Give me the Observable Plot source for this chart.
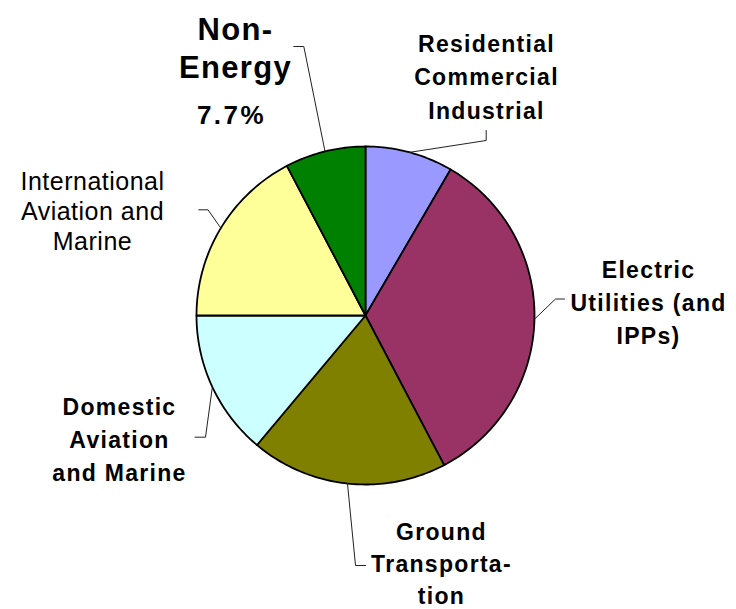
<!DOCTYPE html>
<html>
<head>
<meta charset="utf-8">
<script src="https://cdn.jsdelivr.net/npm/d3@7"></script>
<script src="https://cdn.jsdelivr.net/npm/@observablehq/plot@0.6"></script>
<style>
  html, body { margin: 0; padding: 0; background: #fff; }
  svg g[font-weight="bold"] text { letter-spacing: 1.3px; }
  svg g[font-weight="normal"] text { letter-spacing: 0.5px; }
  svg g.pct text { letter-spacing: 2.5px; }
</style>
</head>
<body>
<div id="chart"></div>
<script>
// ---- data ----
const categories = [
  "Residential Commercial Industrial",
  "Electric Utilities (and IPPs)",
  "Ground Transportation",
  "Domestic Aviation and Marine",
  "International Aviation and Marine",
  "Non-Energy"
];
const shares = [8.4, 33.9, 18.8, 13.9, 17.3, 7.7];
const labelTexts = [
  "Residential\nCommercial\nIndustrial",
  "Electric\nUtilities (and\nIPPs)",
  "Ground\nTransporta-\ntion",
  "Domestic\nAviation\nand Marine",
  "International\nAviation and\nMarine",
  "Non-\nEnergy"
];
const showPercent = [false, false, false, false, false, true];

// ---- styles / layout ----
const colors = ["#9999FF", "#993366", "#808000", "#CCFFFF", "#FFFF99", "#008000"];
const W = 736, H = 609;
const cx = 365, cy = 315, R = 169;
// label block centres and font settings
const labelLayout = [
  {x: 486, y: 74,  size: 23, weight: "bold",   lh: 1.45},
  {x: 648, y: 300, size: 23, weight: "bold",   lh: 1.42},
  {x: 441, y: 561, size: 23, weight: "bold",   lh: 1.4},
  {x: 119, y: 437, size: 23, weight: "bold",   lh: 1.44},
  {x: 92,  y: 210, size: 25, weight: "normal", lh: 1.2},
  {x: 235, y: 46,  size: 31, weight: "bold",   lh: 1.25}
];
const percentLayout = {x: 231, y: 115, size: 26};
// leader line elbow and end points
const leaderLayout = [
  [[485.7, 140], [485.7, 130]],
  [[555, 298.5], [564, 298.5]],
  [[355, 565], [365, 565]],
  [[205, 436.7], [194.5, 436.7]],
  [[207.5, 209.3], [198.3, 209.3]],
  [[303.3, 46], [293.3, 46]]
];

// ---- geometry from data ----
const total = d3.sum(shares);
const pt = (a) => [cx + R * Math.sin(a), cy - R * Math.cos(a)];
let acc = 0;
const slicePts = [];
const leaderPts = [];
categories.forEach((name, i) => {
  const a0 = acc / total * 2 * Math.PI;
  acc += shares[i];
  const a1 = acc / total * 2 * Math.PI;
  const n = Math.max(2, Math.ceil((a1 - a0) / (Math.PI / 180)));
  slicePts.push({name, x: cx, y: cy});
  for (let k = 0; k <= n; k++) {
    const [x, y] = pt(a0 + (a1 - a0) * k / n);
    slicePts.push({name, x, y});
  }
  slicePts.push({name, x: cx, y: cy});
  const [mx, my] = pt((a0 + a1) / 2);
  leaderPts.push({name, x: mx, y: my});
  leaderLayout[i].forEach(([x, y]) => leaderPts.push({name, x, y}));
});

const marks = [
  Plot.line(slicePts, {
    x: "x", y: "y", z: "name", fill: "name",
    stroke: "#000", strokeWidth: 1.8, strokeLinejoin: "round", curve: "linear"
  }),
  Plot.line(leaderPts, {
    x: "x", y: "y", z: "name", stroke: "#222", strokeWidth: 1, curve: "linear"
  })
];
categories.forEach((name, i) => {
  const L = labelLayout[i];
  marks.push(Plot.text([labelTexts[i]], {
    x: () => L.x, y: () => L.y, text: d => d,
    fontSize: L.size, fontWeight: L.weight, lineHeight: L.lh,
    fill: "#000", textAnchor: "middle"
  }));
  if (showPercent[i]) {
    marks.push(Plot.text([shares[i]], {
      x: () => percentLayout.x, y: () => percentLayout.y,
      text: d => d.toFixed(1) + "%",
      fontSize: percentLayout.size, fontWeight: "bold", fill: "#000",
      className: "pct"
    }));
  }
});

const chart = Plot.plot({
  width: W, height: H,
  margin: 0,
  x: {domain: [0, W], range: [0, W], axis: null},
  y: {domain: [0, H], range: [0, H], axis: null},
  color: {domain: categories, range: colors},
  style: {fontFamily: "Arial, 'Liberation Sans', sans-serif", background: "#fff"},
  marks
});
document.getElementById("chart").appendChild(chart);
</script>
</body>
</html>
